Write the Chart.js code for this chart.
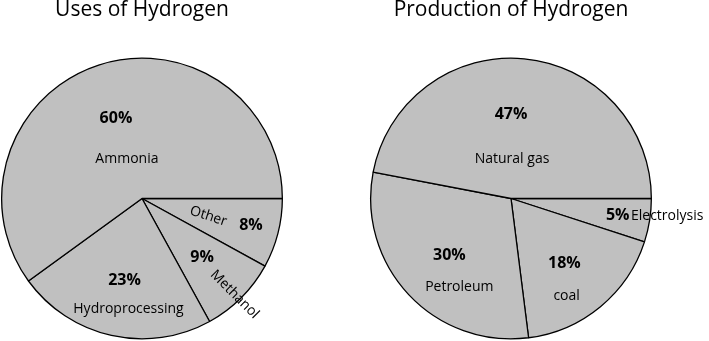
<!DOCTYPE html>
<html>
<head>
<meta charset="utf-8">
<script src="https://cdn.jsdelivr.net/npm/chart.js@4.4.1/dist/chart.umd.min.js"></script>
<style>
  html,body{margin:0;padding:0;background:#fff;}
  body{width:709px;height:341px;position:relative;overflow:hidden;}
  .box{position:absolute;top:0;height:341px;}
  #left{left:0;width:290px;}
  #right{left:360px;width:349px;}
</style>
</head>
<body>
<div class="box" id="left"><canvas id="usesChart"></canvas></div>
<div class="box" id="right"><canvas id="prodChart"></canvas></div>
<script>
/* ===== Dados ===== */
// fatias em ordem horaria, a partir das 3 horas
const usesLabels = ['Other', 'Methanol', 'Hydroprocessing', 'Ammonia'];
const usesValues = [8, 9, 23, 60];

const prodLabels = ['Electrolysis', 'coal', 'Petroleum', 'Natural gas'];
const prodValues = [5, 18, 30, 47];

/* ===== Posicao dos rotulos (angulo em graus, fracao do raio, rotacao) ===== */
const usesPctPos  = [[14, 0.80, 0], [44.5, 0.60, 0], [102, 0.60, 0], [252, 0.60, 0]];
const usesNamePos = [[15, 0.49, 18], [46, 0.95, 45], [97, 0.79, 0], [249, 0.30, 0]];
const prodPctPos  = [[9, 0.77, 0], [50.7, 0.60, 0], [137, 0.60, 0], [270, 0.60, 0]];
const prodNamePos = [[6.5, 1.12, 0], [60.3, 0.80, 0], [120.3, 0.73, 0], [271.5, 0.28, 0]];

const FONT = "'Open Sans', 'DejaVu Sans', sans-serif";
const FILL = '#c0c0c0';

/* ===== Plugin de rotulos ===== */
const sliceLabels = {
  id: 'sliceLabels',
  afterDatasetsDraw(chart, args, opts){
    const ctx = chart.ctx;
    const arcs = chart.getDatasetMeta(0).data;
    const vals = chart.data.datasets[0].data;
    const labels = chart.data.labels;
    ctx.save();
    ctx.fillStyle = '#000';
    ctx.textAlign = 'center';
    ctx.textBaseline = 'middle';
    arcs.forEach((a, i)=>{
      const put = (pos, txt, font)=>{
        const ang = pos[0] * Math.PI / 180;
        const r = a.outerRadius * pos[1];
        ctx.save();
        ctx.translate(a.x + Math.cos(ang) * r, a.y + Math.sin(ang) * r);
        ctx.rotate(pos[2] * Math.PI / 180);
        ctx.font = font;
        ctx.fillText(txt, 0, 0);
        ctx.restore();
      };
      put(opts.pct[i], vals[i] + '%', 'bold 16px ' + FONT);
      put(opts.name[i], labels[i], '14px ' + FONT);
    });
    ctx.restore();
  }
};

function makePie(id, title, labels, values, pctPos, namePos, padL, padR){
  return new Chart(document.getElementById(id), {
    type: 'pie',
    data: { labels, datasets: [{ data: values, backgroundColor: FILL, borderColor: '#000', borderWidth: 1.3, hoverOffset: 0, offset: 0 }] },
    options: {
      responsive: true,
      maintainAspectRatio: false,
      animation: false,
      rotation: 90,
      layout: { padding: { left: padL, right: padR, top: 0, bottom: 1 } },
      plugins: {
        legend: { display: false },
        tooltip: { enabled: false },
        title: { display: true, text: title, color: '#000', font: { family: FONT, size: 21, weight: 'normal', lineHeight: 1.0 }, padding: { top: 0, bottom: 36 } },
        sliceLabels: { pct: pctPos, name: namePos }
      }
    },
    plugins: [sliceLabels]
  });
}

makePie('usesChart', 'Uses of Hydrogen', usesLabels, usesValues, usesPctPos, usesNamePos, 1, 7);
makePie('prodChart', 'Production of Hydrogen', prodLabels, prodValues, prodPctPos, prodNamePos, 10, 57);
</script>
</body>
</html>
